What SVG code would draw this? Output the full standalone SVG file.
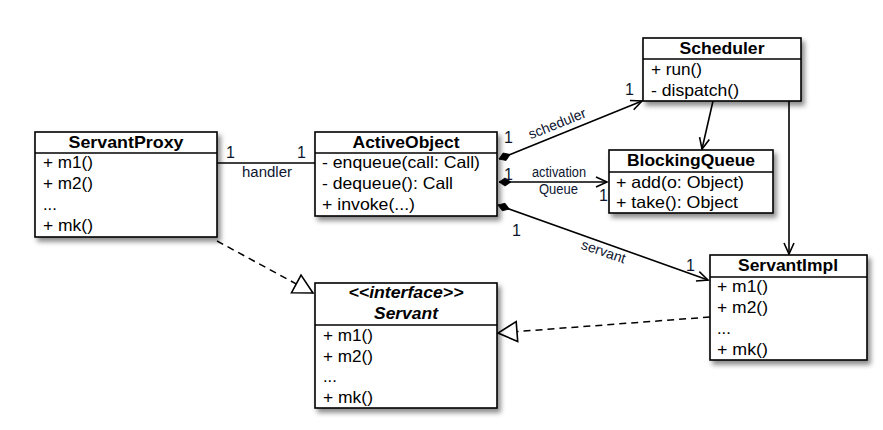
<svg xmlns="http://www.w3.org/2000/svg" width="883" height="430" viewBox="0 0 883 430">
<style>
  .box { fill: #ffffff; stroke: #000000; stroke-width: 1.6; }
  .sep { stroke: #000000; stroke-width: 1.4; }
  .title { font-family: "Liberation Sans", Arial, sans-serif; font-size: 17px; font-weight: bold; text-anchor: middle; fill: #000; }
  .ititle { font-family: "Liberation Sans", Arial, sans-serif; font-size: 17px; font-weight: bold; font-style: italic; text-anchor: middle; fill: #000; }
  .row { font-family: "Liberation Sans", Arial, sans-serif; font-size: 16.5px; fill: #000; }
  .lbl { font-family: "Liberation Sans", Arial, sans-serif; font-size: 14px; fill: #0d1530; }
  .mult { font-family: "Liberation Sans", Arial, sans-serif; font-size: 16px; fill: #0d1530; }
  .line { fill: none; stroke: #000; stroke-width: 1.6; }
  .dash { fill: none; stroke: #000; stroke-width: 1.5; stroke-dasharray: 7 5; }
</style>
<defs>
  <filter id="shadow" x="-10%" y="-10%" width="130%" height="140%">
    <feDropShadow dx="3" dy="4" stdDeviation="2.5" flood-color="#000" flood-opacity="0.45"/>
  </filter>
  <marker id="open" markerUnits="userSpaceOnUse" markerWidth="14" markerHeight="12" refX="12" refY="5" orient="auto" overflow="visible">
    <path d="M1,0 L12,5 L1,10" fill="none" stroke="#000" stroke-width="1.6"/>
  </marker>
  <marker id="diamond" markerUnits="userSpaceOnUse" markerWidth="14" markerHeight="10" refX="0" refY="4" orient="auto" overflow="visible">
    <path d="M0,4 L6,0 L12,4 L6,8 Z" fill="#000" stroke="#000" stroke-width="0.8"/>
  </marker>
  <marker id="tri" markerUnits="userSpaceOnUse" markerWidth="22" markerHeight="22" refX="20" refY="10" orient="auto" overflow="visible">
    <path d="M1,0 L20,10 L1,20 Z" fill="#fff" stroke="#000" stroke-width="1.6"/>
  </marker>
</defs>

<g id="connectors">
  <line class="line" x1="217" y1="163" x2="315" y2="163"/>
  <line class="line" x1="499" y1="159" x2="642" y2="101" marker-start="url(#diamond)" marker-end="url(#open)"/>
  <line class="line" x1="499" y1="182" x2="607" y2="182" marker-start="url(#diamond)" marker-end="url(#open)"/>
  <line class="line" x1="498" y1="205" x2="708" y2="280" marker-start="url(#diamond)" marker-end="url(#open)"/>
  <line class="line" x1="713" y1="101" x2="702" y2="149" marker-end="url(#open)"/>
  <line class="line" x1="789" y1="101" x2="789" y2="254" marker-end="url(#open)"/>
  <line class="dash" x1="217" y1="241" x2="313" y2="293" marker-end="url(#tri)"/>
  <line class="dash" x1="710" y1="317" x2="498" y2="333" marker-end="url(#tri)"/>

  <text class="mult" x="226" y="158">1</text>
  <text class="mult" x="297" y="158">1</text>
  <text class="lbl" x="242" y="177" textLength="50" lengthAdjust="spacingAndGlyphs">handler</text>

  <text class="mult" x="504" y="143">1</text>
  <text class="mult" x="625" y="95">1</text>
  <text class="lbl" x="559" y="128" text-anchor="middle" transform="rotate(-22 559 128)">scheduler</text>

  <text class="mult" x="504" y="180">1</text>
  <text class="mult" x="599" y="201">1</text>
  <text class="lbl" x="532" y="177" font-size="13" textLength="54" lengthAdjust="spacingAndGlyphs">activation</text>
  <text class="lbl" x="539" y="194" font-size="13" textLength="39" lengthAdjust="spacingAndGlyphs">Queue</text>

  <text class="mult" x="512" y="236">1</text>
  <text class="mult" x="686" y="271">1</text>
  <text class="lbl" x="602" y="256" text-anchor="middle" transform="rotate(19 602 256)">servant</text>
</g>

<g id="ServantProxy">
  <rect class="box" x="35" y="132" width="182" height="105" filter="url(#shadow)"/>
  <line class="sep" x1="35" y1="153" x2="217" y2="153"/>
  <text class="title" x="126" y="148" textLength="115" lengthAdjust="spacingAndGlyphs">ServantProxy</text>
  <text class="row" x="43" y="168" textLength="50" lengthAdjust="spacingAndGlyphs">+ m1()</text>
  <text class="row" x="43" y="189" textLength="50" lengthAdjust="spacingAndGlyphs">+ m2()</text>
  <text class="row" x="43" y="210">...</text>
  <text class="row" x="43" y="231" textLength="50" lengthAdjust="spacingAndGlyphs">+ mk()</text>
</g>

<g id="ActiveObject">
  <rect class="box" x="315" y="132" width="182" height="84" filter="url(#shadow)"/>
  <line class="sep" x1="315" y1="153" x2="497" y2="153"/>
  <text class="title" x="406" y="148" textLength="107" lengthAdjust="spacingAndGlyphs">ActiveObject</text>
  <text class="row" x="322" y="168" textLength="158" lengthAdjust="spacingAndGlyphs">- enqueue(call: Call)</text>
  <text class="row" x="322" y="189" textLength="131" lengthAdjust="spacingAndGlyphs">- dequeue(): Call</text>
  <text class="row" x="322" y="210" textLength="93" lengthAdjust="spacingAndGlyphs">+ invoke(...)</text>
</g>

<g id="Scheduler">
  <rect class="box" x="643" y="38" width="158" height="63" filter="url(#shadow)"/>
  <line class="sep" x1="643" y1="59" x2="801" y2="59"/>
  <text class="title" x="722" y="54" textLength="85" lengthAdjust="spacingAndGlyphs">Scheduler</text>
  <text class="row" x="651" y="75" textLength="51" lengthAdjust="spacingAndGlyphs">+ run()</text>
  <text class="row" x="651" y="96" textLength="88" lengthAdjust="spacingAndGlyphs">- dispatch()</text>
</g>

<g id="BlockingQueue">
  <rect class="box" x="609" y="150" width="164" height="63" filter="url(#shadow)"/>
  <line class="sep" x1="609" y1="172" x2="773" y2="172"/>
  <text class="title" x="691" y="166" textLength="128" lengthAdjust="spacingAndGlyphs">BlockingQueue</text>
  <text class="row" x="616" y="188" textLength="128" lengthAdjust="spacingAndGlyphs">+ add(o: Object)</text>
  <text class="row" x="616" y="208" textLength="122" lengthAdjust="spacingAndGlyphs">+ take(): Object</text>
</g>

<g id="ServantImpl">
  <rect class="box" x="710" y="255" width="157" height="105" filter="url(#shadow)"/>
  <line class="sep" x1="710" y1="277" x2="867" y2="277"/>
  <text class="title" x="788" y="271" textLength="100" lengthAdjust="spacingAndGlyphs">ServantImpl</text>
  <text class="row" x="717" y="292" textLength="51" lengthAdjust="spacingAndGlyphs">+ m1()</text>
  <text class="row" x="717" y="313" textLength="51" lengthAdjust="spacingAndGlyphs">+ m2()</text>
  <text class="row" x="717" y="334">...</text>
  <text class="row" x="717" y="355" textLength="51" lengthAdjust="spacingAndGlyphs">+ mk()</text>
</g>

<g id="Servant">
  <rect class="box" x="315" y="283" width="182" height="125" filter="url(#shadow)"/>
  <line class="sep" x1="315" y1="325" x2="497" y2="325"/>
  <text class="ititle" x="406" y="298" textLength="115" lengthAdjust="spacingAndGlyphs">&lt;&lt;interface&gt;&gt;</text>
  <text class="ititle" x="406" y="319" textLength="64" lengthAdjust="spacingAndGlyphs">Servant</text>
  <text class="row" x="323" y="341" textLength="50" lengthAdjust="spacingAndGlyphs">+ m1()</text>
  <text class="row" x="323" y="362" textLength="50" lengthAdjust="spacingAndGlyphs">+ m2()</text>
  <text class="row" x="323" y="382">...</text>
  <text class="row" x="323" y="403" textLength="50" lengthAdjust="spacingAndGlyphs">+ mk()</text>
</g>
</svg>
